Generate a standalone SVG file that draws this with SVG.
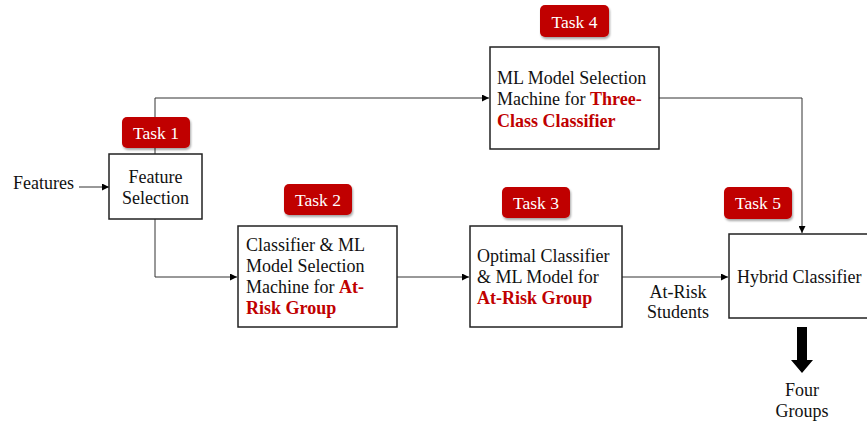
<svg xmlns="http://www.w3.org/2000/svg" width="867" height="423" viewBox="0 0 867 423">
<defs>
<marker id="ah" viewBox="0 0 10 10" refX="10" refY="5" markerWidth="7" markerHeight="7" markerUnits="userSpaceOnUse" orient="auto">
<path d="M0,0 L10,5 L0,10 z" fill="#000"/>
</marker>
<filter id="sh" x="-20%" y="-20%" width="140%" height="150%">
<feDropShadow dx="1" dy="2" stdDeviation="1.2" flood-color="#000" flood-opacity="0.35"/>
</filter>
</defs>
<style>
text{font-family:"Liberation Serif","Times New Roman",serif;font-size:18px;fill:#111}
.box{fill:#fff;stroke:#222;stroke-width:1.5}
.badge{fill:#C00000;filter:url(#sh)}
.bt{fill:#fff;font-size:17.5px;text-anchor:middle}
.red{fill:#C00000;font-weight:bold}
.c{text-anchor:middle}
.ln{fill:none;stroke:#333;stroke-width:1}
</style>
<rect width="867" height="423" fill="#fff"/>
<g id="connectors">
<path class="ln" d="M79,187 H109" marker-end="url(#ah)"/>
<path class="ln" d="M155,154 V98 H489" marker-end="url(#ah)"/>
<path class="ln" d="M659,98 H802 V233" marker-end="url(#ah)"/>
<path class="ln" d="M155,219 V277 H237" marker-end="url(#ah)"/>
<path class="ln" d="M397,277 H469" marker-end="url(#ah)"/>
<path class="ln" d="M622,277 H728" marker-end="url(#ah)"/>
<path d="M797,327 H807 V360 H813 L802,373 L791,360 H797 Z" fill="#000"/>
</g>
<g id="features-label"><text x="13" y="189">Features</text></g>
<g id="task1">
<rect class="badge" x="122" y="117" width="68" height="31" rx="5"/>
<text class="bt" x="156" y="139">Task 1</text>
</g>
<g id="feature-selection">
<rect class="box" x="109" y="154" width="93" height="65"/>
<text class="c" x="155.5" y="183">Feature</text>
<text class="c" x="155.5" y="204">Selection</text>
</g>
<g id="task4">
<rect class="badge" x="540" y="5" width="69" height="32" rx="5"/>
<text class="bt" x="574.5" y="28">Task 4</text>
</g>
<g id="three-class">
<rect class="box" x="490" y="47" width="169" height="102"/>
<text x="497" y="84">ML Model Selection</text>
<text x="497" y="105">Machine for <tspan class="red">Three-</tspan></text>
<text x="497" y="127" class="red">Class Classifier</text>
</g>
<g id="task2">
<rect class="badge" x="284" y="184" width="68" height="31" rx="5"/>
<text class="bt" x="318" y="206">Task 2</text>
</g>
<g id="at-risk-selection">
<rect class="box" x="238" y="226" width="159" height="101"/>
<text x="246" y="251">Classifier &amp; ML</text>
<text x="246" y="272">Model Selection</text>
<text x="246" y="293">Machine for <tspan class="red">At-</tspan></text>
<text x="246" y="314" class="red">Risk Group</text>
</g>
<g id="task3">
<rect class="badge" x="502" y="187" width="68" height="31" rx="5"/>
<text class="bt" x="536" y="209">Task 3</text>
</g>
<g id="optimal">
<rect class="box" x="470" y="226" width="152" height="101"/>
<text x="477" y="262">Optimal Classifier</text>
<text x="477" y="283">&amp; ML Model for</text>
<text x="477" y="304" class="red">At-Risk Group</text>
</g>
<g id="at-risk-label">
<text class="c" x="678" y="298">At-Risk</text>
<text class="c" x="678" y="318">Students</text>
</g>
<g id="task5">
<rect class="badge" x="724" y="187" width="68" height="32" rx="5"/>
<text class="bt" x="758" y="209">Task 5</text>
</g>
<g id="hybrid">
<rect class="box" x="729" y="234" width="140" height="84"/>
<text x="737" y="283">Hybrid Classifier</text>
</g>
<g id="four-groups">
<text class="c" x="802" y="396">Four</text>
<text class="c" x="802" y="417">Groups</text>
</g>
</svg>
